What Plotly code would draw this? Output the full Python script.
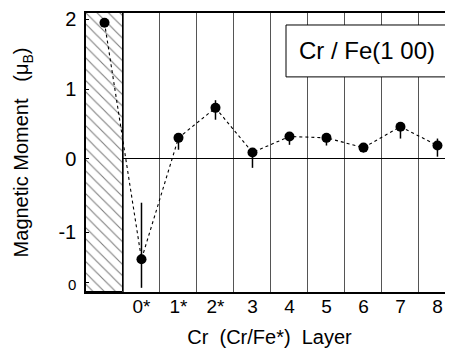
import plotly.graph_objects as go

categories = ["Fe", "0*", "1*", "2*", "3", "4", "5", "6", "7", "8"]
tick_labels = ["\u00a0", "0*", "1*", "2*", "3", "4", "5", "6", "7", "8"]
moment = [1.95, -1.44, 0.30, 0.73, 0.09, 0.32, 0.30, 0.16, 0.46, 0.19]
err_plus = [0.0, 0.81, 0.05, 0.11, 0.05, 0.04, 0.03, 0.03, 0.04, 0.10]
err_minus = [0.0, 0.41, 0.17, 0.17, 0.22, 0.12, 0.11, 0.07, 0.17, 0.16]
y_ticks = [2, 1, 0, -1.05, -1.78]
y_ticktext = ["2", "1", "0", "-1", "<span style='font-size:15px'>0</span>"]
y_range = [-1.91, 2.09]

FONT = "Liberation Sans, Arial, Helvetica, sans-serif"
SP = "\u00a0"

fig = go.Figure()

# hatched substrate region
fig.add_trace(go.Bar(
    x=[categories[0]], y=[y_range[1] - y_range[0]], base=[y_range[0]],
    width=1.0,
    marker=dict(color="white", line=dict(color="black", width=1),
                pattern=dict(shape="\\", fgcolor="black", bgcolor="white",
                             size=8, solidity=0.14)),
    showlegend=False, hoverinfo="skip",
))

fig.add_trace(go.Scatter(
    x=categories, y=moment, mode="lines+markers",
    line=dict(color="black", width=1.1, dash="dot"),
    marker=dict(color="black", size=10),
    error_y=dict(type="data", symmetric=False, array=err_plus,
                 arrayminus=err_minus, color="black", thickness=1.5, width=0),
    showlegend=False,
))

fig.add_shape(type="rect", xref="paper", yref="paper",
              x0=0.545, x1=0.984, y0=0.771, y1=0.957,
              line=dict(color="black", width=1), fillcolor="white", layer="above")
fig.add_annotation(xref="paper", yref="paper", x=0.7645, y=0.864,
                   xanchor="center", yanchor="middle",
                   text="Cr / Fe(1 00)", showarrow=False,
                   font=dict(family=FONT, size=24, color="black"))

fig.update_layout(
    width=445, height=344,
    margin=dict(l=78, r=0, t=5, b=60, autoexpand=False),
    paper_bgcolor="white", plot_bgcolor="white",
    font=dict(family=FONT, color="black"),
    bargap=0,
    xaxis=dict(
        type="category", categoryorder="array", categoryarray=categories,
        tickvals=categories, ticktext=tick_labels,
        tickson="boundaries", ticks="", showgrid=True,
        gridcolor="#555", gridwidth=1,
        range=[-0.5, 9.42],
        showline=True, linecolor="black", linewidth=1.5, mirror=True,
        tickfont=dict(size=19), ticklabelstandoff=-4,
        title=dict(text=f"Cr{SP}{SP}(Cr/Fe*){SP}{SP}Layer",
                   font=dict(size=20), standoff=14),
        automargin=False,
    ),
    yaxis=dict(
        range=y_range, tickvals=y_ticks, ticktext=y_ticktext,
        showgrid=False, zeroline=True, zerolinecolor="black", zerolinewidth=1,
        showline=True, linecolor="black", linewidth=1.5, mirror=True,
        ticks="inside", ticklen=3, tickcolor="black",
        tickfont=dict(size=20), ticklabelstandoff=4,
        title=dict(text=f"Magnetic Moment{SP}{SP}{SP}(\u03bc<sub>B</sub>)",
                   font=dict(size=20), standoff=24),
        automargin=False,
    ),
)

fig.write_html("out.html")
